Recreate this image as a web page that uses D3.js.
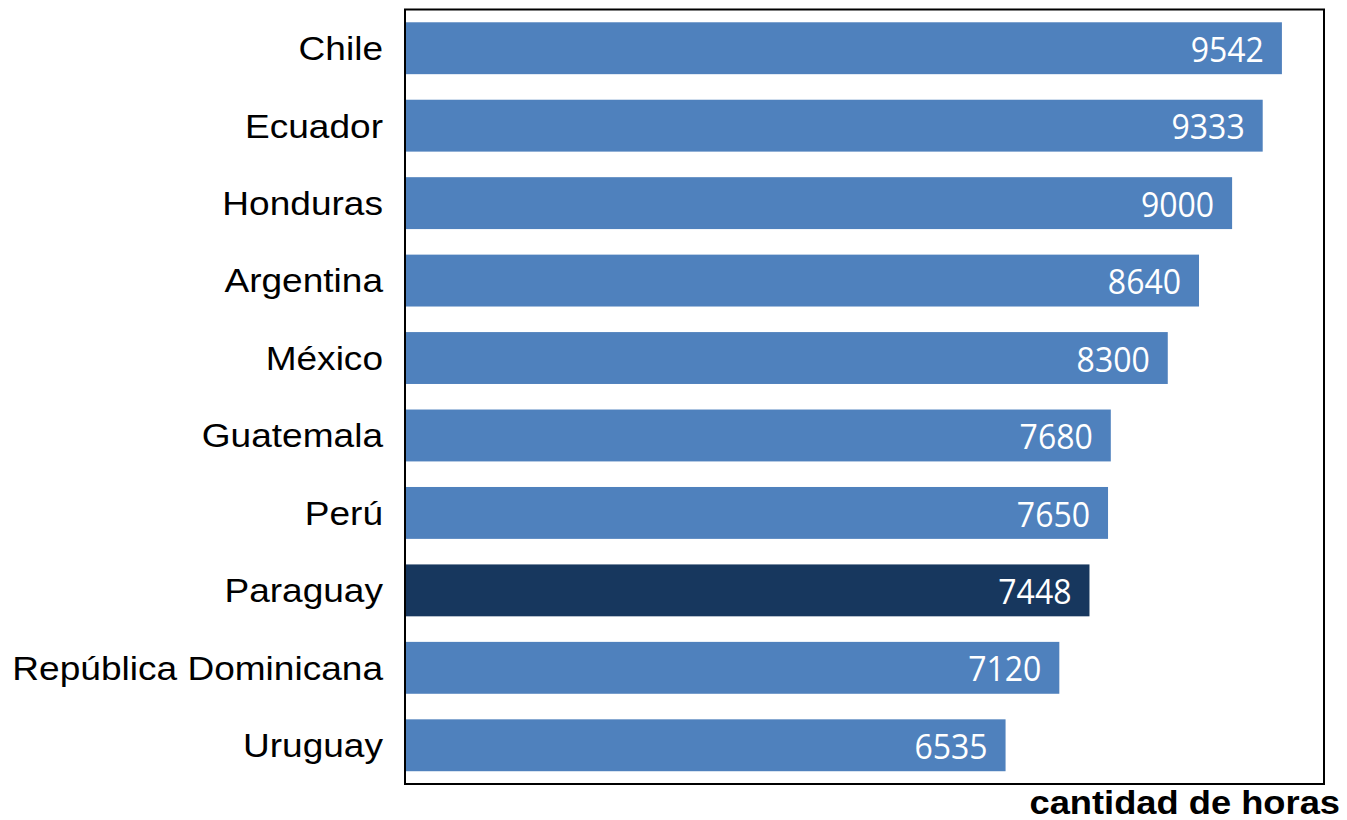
<!DOCTYPE html>
<html><head><meta charset="utf-8">
<script src="https://cdn.jsdelivr.net/npm/d3@7"></script>
<style>body{margin:0;background:#fff;}</style>
</head><body>
<svg id="c" width="1347" height="820"></svg>
<script>
const categories = ["Chile","Ecuador","Honduras","Argentina","México","Guatemala","Perú","Paraguay","República Dominicana","Uruguay"];
const values = [9542,9333,9000,8640,8300,7680,7650,7448,7120,6535];
const highlight = "Paraguay";
const axisTitle = "cantidad de horas";

const svg = d3.select("#c");
const m = {left:405, right:1324, top:9.5, bottom:784};
const x = d3.scaleLinear().domain([0,10000]).range([m.left, m.right]);
const y = d3.scaleBand().domain(categories).range([m.top, m.bottom]).paddingInner(0.33).paddingOuter(0.165);

const data = categories.map((c,i)=>({c, v:values[i]}));

svg.selectAll("rect.bar").data(data).join("rect")
  .attr("class","bar")
  .attr("x", x(0)).attr("y", d=>y(d.c))
  .attr("width", d=>x(d.v)-x(0)).attr("height", y.bandwidth())
  .attr("fill", d=>d.c===highlight?"#17375e":"#4f81bd");

svg.append("rect").attr("x",m.left).attr("y",m.top).attr("width",m.right-m.left).attr("height",m.bottom-m.top)
  .attr("fill","none").attr("stroke","#000").attr("stroke-width",2);

svg.selectAll("text.val").data(data).join("text")
  .attr("class","val")
  .attr("transform", d=>`translate(${x(d.v)-18},${y(d.c)+y.bandwidth()/2}) scale(1,1.06)`)
  .attr("dy","0.4em").attr("text-anchor","end")
  .attr("fill","#fff").attr("font-family","'Open Sans', sans-serif").attr("font-size",32)
  .text(d=>d.v);

svg.selectAll("text.cat").data(data).join("text")
  .attr("class","cat")
  .attr("transform", d=>`translate(${m.left-22},${y(d.c)+y.bandwidth()/2}) scale(1.09,1)`)
  .attr("dy","0.35em").attr("text-anchor","end")
  .attr("fill","#000").attr("font-family","'Liberation Sans', Arial, sans-serif").attr("font-size",34)
  .text(d=>d.c);

svg.append("text").attr("transform","translate(1340,814) scale(1.1,1)").attr("text-anchor","end")
  .attr("font-family","'Liberation Sans', Arial, sans-serif").attr("font-weight","bold").attr("font-size",33)
  .text(axisTitle);
</script>
</body></html>
